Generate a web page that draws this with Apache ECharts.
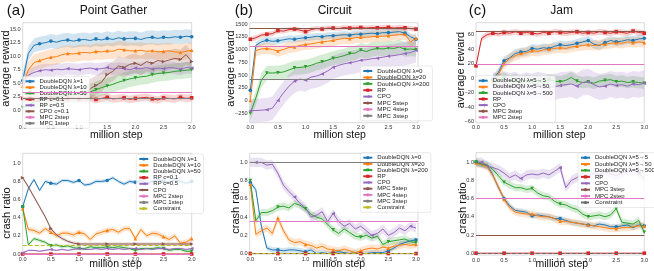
<!DOCTYPE html>
<html><head><meta charset="utf-8">
<script src="https://cdn.jsdelivr.net/npm/echarts@6/dist/echarts.min.js"></script>
<style>html,body{margin:0;padding:0;background:#fff}#c{width:654px;height:271px}</style>
</head><body><div id="c"></div>
<script>
// ---------- data ----------
const X = [0,0.1,0.2,0.3,0.4,0.5,0.6,0.7,0.8,0.9,1.0,1.1,1.2,1.3,1.4,1.5,1.6,1.7,1.8,1.9,2.0,2.1,2.2,2.3,2.4,2.5,2.6,2.7,2.8,2.9,3.0];
const xTicks = [0,0.5,1.0,1.5,2.0,2.5,3.0];
const yTicksA = [0,2.5,5,7.5,10,12.5,15];
const yTicksB = [-250,0,250,500,750,1000,1250,1500];
const yTicksC = [-60,-40,-20,0,20,40,60];
const yTicksCrash = [0,0.2,0.4,0.6,0.8,1.0];

// (a) Point Gather reward
const gA_dqn1  = [5.5,10.5,12.0,12.3,12.5,12.8,12.6,12.9,13.0,12.8,13.0,13.1,12.9,13.2,13.0,13.3,13.1,13.4,13.2,13.3,13.3,13.1,13.4,13.5,13.3,13.5,13.4,13.6,13.5,13.7,13.6];
const gA_dqn10 = [4.5,7.5,8.8,9.2,9.5,9.8,9.9,10.3,10.5,10.4,10.6,10.7,10.6,10.9,10.8,11.0,10.9,11.3,11.2,11.0,11.0,11.1,10.9,11.0,10.8,10.9,11.0,10.8,10.7,10.9,11.1];
const gA_dqn50 = [0.5,1.0,1.5,1.8,2.0,2.3,2.5,2.6,2.8,2.9,3.0,3.1,3.4,3.8,4.2,4.5,4.8,5.2,5.5,5.8,6.0,6.2,6.3,6.6,6.8,6.9,7.0,7.2,7.3,7.4,7.5];
const gA_rp01  = [2.2,2.5,2.3,2.1,2.4,2.2,2.3,2.0,2.2,2.3,2.1,2.2,2.3,2.0,2.2,2.4,2.1,2.2,2.3,2.0,2.2,2.3,2.4,2.1,1.9,2.3,2.2,2.1,2.4,2.2,2.3];
const gA_rp05  = [5.0,6.5,7.0,7.3,7.5,7.4,7.6,7.5,7.7,7.6,7.5,7.7,7.8,7.6,7.7,7.9,7.6,7.8,7.7,7.5,7.8,7.7,7.9,7.6,7.8,7.7,7.9,7.8,7.6,7.9,7.8];
const gA_cpo   = [2.6,4.0,4.6,5.2,6.6,7.2,8.2,7.9,8.5,8.7,8.3,9.0,8.7,9.2,9.0,9.3,9.6,9.4,10.3,9.0]; // from x=1.1
const gA_mpc = {two:3.4, one:2.3};

// (b) Circuit reward
const gB_dqn0   = [200,1080,1150,1180,1160,1170,1190,1210,1200,1220,1230,1240,1260,1250,1270,1270,1280,1290,1280,1300,1300,1310,1320,1310,1330,1330,1340,1350,1320,1250,1200];
const gB_dqn20  = [0,980,1010,1020,1000,970,1000,1040,1050,1080,1100,1110,1130,1150,1160,1180,1200,1220,1210,1230,1240,1240,1250,1260,1260,1270,1280,1290,1300,1150,1220];
const gB_dqn200 = [-250,50,400,540,540,545,560,600,640,650,660,690,730,760,790,830,850,880,920,930,990,960,1000,1020,1010,1030,1020,1050,1000,1010,1000];
const gB_rp     = [1200,1230,1280,1300,1310,1370,1360,1390,1400,1380,1350,1390,1410,1400,1420,1420,1410,1430,1420,1425,1430,1420,1430,1425,1430,1435,1420,1430,1425,1410,1400];
const gB_cpo    = [-200,-195,-190,-180,-150,0,150,280,380,420,400,460,480,520,580,650,690,720,740,760,790,800,820,830,850,870,880,900,920,940,980];
const gB_mpc = {five:1420, four:1060, three:420};

// (c) Jam reward (DQN / CPO from x=0.3)
const gC_dqn5   = [-2,8,24,28,34,36,37,41,40,42,41,44,46,45,46,48,50,52,47,45,49,52,50,51,53,52,54,55];
const gC_dqn50  = [-4,5,20,27,31,34,35,38,37,39,40,41,42,41,43,44,45,46,45,46,47,48,49,48,50,49,50,49];
const gC_dqn500 = [-5,-3,0,-4,-2,-6,-3,-5,-4,-7,-2,-4,-5,-3,1,-4,-6,-5,-7,-4,-3,-2,-5,-4,-6,-5,-6,-7];
const gC_rp     = [17,55,60,62,61,63,62,64,62,63,62,61,63,62,64,63,62,63,64,62,63,62,64,63,62,64,63,62,65,63,62];
const gC_cpo    = [-10,-12,-8,-11,-9,-13,-10,-12,-9,-11,-13,-12,-10,-9,-8,-11,-6,-5,-9,-12,-11,-8,-10,-9,-11,-8,-9,-7];
const gC_mpc = {three:65, two:19};

// (a) crash ratio
const cA_dqn1  = [0.52,0.72,0.82,0.70,0.80,0.78,0.77,0.81,0.81,0.79,0.81,0.76,0.77,0.80,0.80,0.81,0.84,0.80,0.77,0.80,0.79,0.81,0.78,0.80,0.82,0.80,0.79,0.82,0.80,0.78,0.80];
const cA_dqn10 = [0.50,0.27,0.26,0.23,0.28,0.24,0.20,0.23,0.23,0.21,0.24,0.22,0.16,0.22,0.24,0.26,0.27,0.24,0.28,0.28,0.17,0.27,0.20,0.23,0.22,0.19,0.16,0.20,0.12,0.13,0.17];
const cA_dqn50 = [0.52,0.10,0.17,0.15,0.13,0.09,0.10,0.08,0.09,0.07,0.06,0.06,0.08,0.07,0.07,0.08,0.07,0.08,0.07,0.06,0.04,0.06,0.06,0.06,0.07,0.06,0.04,0.05,0.05,0.03,0.03];
const cA_rp01  = [0,0,0,0,0,0,0,0,0,0,0,0,0,0,0,0,0,0,0,0,0,0,0,0,0,0,0,0,0,0,0];
const cA_rp05  = [0.01,0.04,0.04,0.03,0.04,0.05,0.04,0.05,0.04,0.05,0.06,0.05,0.05,0.06,0.05,0.06,0.05,0.06,0.05,0.06,0.06,0.05,0.06,0.05,0.06,0.06,0.05,0.06,0.06,0.05,0.06];
const cA_cpo   = [0.84,0.74,0.63,0.52,0.41,0.28,0.21,0.17,0.14,0.12,0.11,0.11,0.11,0.11,0.11,0.11,0.11,0.11,0.11,0.11,0.11,0.11,0.11,0.11,0.11,0.11,0.11,0.11,0.11,0.11,0.11];
const cA_lines = {two:0, one:0, constraint:0.1};

// (b) crash ratio
const cB_dqn0   = [0.78,0.70,0.30,0.06,0.04,0.04,0.03,0.04,0.04,0.03,0.02,0.04,0.00,0.01,0.00,0.01,0.02,0.01,0.00,0.01,0.00,0.00,0.01,0.01,0.01,0.03,0.06,0.10,0.12,0.14,0.15];
const cB_dqn20  = [0.76,0.21,0.25,0.28,0.22,0.39,0.25,0.15,0.12,0.13,0.10,0.09,0.06,0.08,0.05,0.04,0.03,0.05,0.03,0.01,0.03,0.05,0.06,0.05,0.07,0.06,0.08,0.09,0.10,0.09,0.10];
const cB_dqn200 = [0.80,0.36,0.45,0.45,0.47,0.51,0.52,0.50,0.55,0.53,0.49,0.43,0.40,0.38,0.32,0.26,0.22,0.27,0.23,0.19,0.18,0.20,0.17,0.19,0.10,0.13,0.14,0.15,0.16,0.13,0.12];
const cB_rp     = [0,0,0,0,0,0,0,0,0,0,0,0,0,0,0,0,0,0,0,0,0,0,0,0,0,0,0,0,0,0,0];
const cB_cpo    = [1.0,1.0,1.0,0.97,0.98,0.88,0.75,0.68,0.62,0.55,0.50,0.40,0.42,0.46,0.35,0.44,0.35,0.30,0.33,0.27,0.30,0.25,0.20,0.22,0.27,0.20,0.23,0.28,0.25,0.30,0.28];
const cB_lines = {five:0, four:0.35, three:1.0, constraint:0};

// (c) crash ratio
const cC_dqn5   = [1.0,0.97,0.96,0.86,0.72,0.60,0.52,0.47,0.46,0.45,0.41,0.42,0.41,0.40,0.38,0.38,0.36,0.34,0.33,0.32,0.31,0.30,0.32,0.31,0.29,0.29,0.30,0.31,0.28,0.31,0.30];
const cC_dqn50  = [0.99,0.97,0.95,0.85,0.73,0.59,0.50,0.45,0.44,0.43,0.43,0.41,0.40,0.40,0.38,0.35,0.35,0.34,0.33,0.32,0.31,0.30,0.29,0.28,0.27,0.27,0.28,0.28,0.29,0.30,0.30];
const cC_dqn500 = [1.0,0.98,0.97,0.92,0.85,0.78,0.75,0.72,0.72,0.70,0.71,0.66,0.63,0.62,0.57,0.54,0.53,0.50,0.48,0.43,0.40,0.41,0.42,0.40,0.42,0.49,0.34,0.33,0.32,0.36,0.23];
const cC_rp     = [0,0,0,0,0,0,0,0,0,0,0,0,0,0,0,0,0,0,0,0,0,0,0,0,0,0,0,0,0,0,0];
const cC_cpo    = [1.0,1.0,0.96,0.94,0.92,0.88,0.83,0.86,0.82,0.86,0.87,0.86,0.88,0.86,0.90,0.94,0.72,0.80,0.83,0.88,0.85,0.88,0.86,0.90,0.87,0.85,0.88,0.90,0.92,0.88,0.82];
const cC_lines = {three:0.2, two:0.6, constraint:0};

// ---------- styling / layout ----------
const FONT = 'Liberation Sans, Arial, sans-serif';
const COL = {blue:'#1f77b4', orange:'#ff7f0e', green:'#2ca02c', red:'#d62728', purple:'#9467bd', brown:'#8c564b', pink:'#e377c2', gray:'#7f7f7f', olive:'#bcbd22'};
const TOPMARK = [0,3,5,8,10,13,15,18,20,23,25,28,30];
const BOTMARK = [0,5,10,15,20,25,30];
const CPOMARK = [1,8,15,22,29];

const panels = [
  {grid:{left:22.7, top:22.7, width:169, height:100}, x:[0,3], y:[-2.3,16.2], yt:yTicksA, fmt:v=>v.toFixed(1)},
  {grid:{left:249.7, top:22.7, width:168.3, height:100}, x:[-0.011,3.036], y:[-434,1525], yt:yTicksB, fmt:v=>String(v).replace('-','\u2212')},
  {grid:{left:476, top:22.7, width:168.3, height:100}, x:[0,3], y:[-61.4,76.5], yt:yTicksC, fmt:v=>String(v).replace('-','\u2212')},
  {grid:{left:22.7, top:153.3, width:169, height:100.7}, x:[0,3], y:[0,1.11], yt:yTicksCrash, fmt:v=>v.toFixed(1)},
  {grid:{left:249.7, top:153.3, width:168.3, height:100.7}, x:[-0.011,3.036], y:[-0.005,1.1], yt:yTicksCrash, fmt:v=>v.toFixed(1)},
  {grid:{left:476, top:152.6, width:168.3, height:102.4}, x:[0,3], y:[-0.02,1.105], yt:yTicksCrash, fmt:v=>v.toFixed(1)}
];

const series = [];
const legends = [];
const nm = (p, s) => s + '\u200b'.repeat(p);

function bandSeries(p, xs, ys, w, color) {
  const lo = ys.map(y => y - w), hi = ys.map(y => y + w);
  series.push({type:'custom', xAxisIndex:p, yAxisIndex:p, silent:true, z:1,
    data: xs.map((x,i)=>[x, ys[i]]),
    renderItem: function (params, api) {
      if (params.dataIndex !== 0) return null;
      const pts = [];
      for (let i = 0; i < xs.length; i++) pts.push(api.coord([xs[i], hi[i]]));
      for (let i = xs.length - 1; i >= 0; i--) pts.push(api.coord([xs[i], lo[i]]));
      const cs = params.coordSys;
      return {type:'polygon', shape:{points:pts}, style:{fill:color, opacity:0.2},
        clipPath:{type:'rect', shape:{x:cs.x, y:cs.y, width:cs.width, height:cs.height}}};
    }});
}
function curve(p, name, ys, color, sym, rot, marks, band, off) {
  off = off || 0;
  const xs = X.slice(off, off + ys.length);
  if (band) bandSeries(p, xs, ys, band, color);
  series.push({type:'line', name:nm(p,name), xAxisIndex:p, yAxisIndex:p,
    data: ys.map((y,i)=>[xs[i], y]), color:color,
    symbol:sym, symbolRotate:rot||0,
    symbolSize:(v,prm)=> marks.indexOf(prm.dataIndex + off) >= 0 ? 3.6 : 0,
    showSymbol:true, itemStyle:{color:color}, lineStyle:{width:1, color:color}, z:3});
}
function hline(p, name, v, color, type, w) {
  series.push({type:'line', name:nm(p,name), xAxisIndex:p, yAxisIndex:p, data:[], symbol:'none',
    color:color, itemStyle:{color:color}, lineStyle:{color:color, width:w||1, type:type||'solid'}, z:2,
    markLine:{silent:true, symbol:['none','none'], label:{show:false}, animation:false,
      lineStyle:{color:color, width:w||1, type:type||'solid'}, data:[{yAxis:v}]}});
}
function legend(p, names, left, top, fs, lh, gap) {
  legends.push({orient:'vertical', left:left, top:top, data:names.map(s=>nm(p,s)),
    itemWidth:9, itemHeight:4, itemGap:gap, padding:[2,3,2,2], selectedMode:false,
    textStyle:{fontSize:fs, lineHeight:lh, fontFamily:FONT, color:'#222'},
    backgroundColor:'rgba(255,255,255,0.8)', borderColor:'#d5d5d5', borderWidth:0.5, borderRadius:2});
}

// panel 0: Point Gather reward
hline(0, 'MPC 1step', gA_mpc.one, COL.gray);
hline(0, 'MPC 2step', gA_mpc.two, COL.pink, 'solid', 1.2);
curve(0, 'DoubleDQN λ=1', gA_dqn1, COL.blue, 'circle', 0, TOPMARK, 1.3);
curve(0, 'DoubleDQN λ=10', gA_dqn10, COL.orange, 'triangle', 0, TOPMARK, 1.5);
curve(0, 'DoubleDQN λ=50', gA_dqn50, COL.green, 'triangle', 180, TOPMARK, 1.5);
curve(0, 'RP c=0.1', gA_rp01, COL.red, 'rect', 0, TOPMARK, 0.7);
curve(0, 'RP c=0.5', gA_rp05, COL.purple, 'triangle', 90, TOPMARK, 1.1);
curve(0, 'CPO c=0.1', gA_cpo, COL.brown, 'triangle', -90, TOPMARK, 1.8, 11);
legend(0, ['DoubleDQN λ=1','DoubleDQN λ=10','DoubleDQN λ=50','RP c=0.1','RP c=0.5','CPO c=0.1','MPC 2step','MPC 1step'], 22.5, 76.3, 6, 5.2, 0);

// panel 1: Circuit reward
hline(1, 'MPC 5step', gB_mpc.five, COL.brown);
hline(1, 'MPC 4step', gB_mpc.four, COL.pink);
hline(1, 'MPC 3step', gB_mpc.three, COL.gray);
curve(1, 'DoubleDQN λ=0', gB_dqn0, COL.blue, 'circle', 0, TOPMARK, 70);
curve(1, 'DoubleDQN λ=20', gB_dqn20, COL.orange, 'triangle', 0, TOPMARK, 110);
curve(1, 'DoubleDQN λ=200', gB_dqn200, COL.green, 'triangle', 180, TOPMARK, 140);
curve(1, 'RP', gB_rp, COL.red, 'rect', 0, TOPMARK, 50);
curve(1, 'CPO', gB_cpo, COL.purple, 'triangle', 90, TOPMARK, 230);
legend(1, ['DoubleDQN λ=0','DoubleDQN λ=20','DoubleDQN λ=200','RP','CPO','MPC 5step','MPC 4step','MPC 3step'], 360.3, 66, 6.2, 6, 0.4);

// panel 2: Jam reward
hline(2, 'MPC 3step', gC_mpc.three, COL.brown);
hline(2, 'MPC 2step', gC_mpc.two, COL.pink);
curve(2, 'DoubleDQN λ=5→5', gC_dqn5, COL.blue, 'circle', 0, TOPMARK, 6, 3);
curve(2, 'DoubleDQN λ=5→50', gC_dqn50, COL.orange, 'triangle', 0, TOPMARK, 7, 3);
curve(2, 'DoubleDQN λ=5→500', gC_dqn500, COL.green, 'triangle', 180, TOPMARK, 8, 3);
curve(2, 'RP', gC_rp, COL.red, 'rect', 0, TOPMARK, 4);
curve(2, 'CPO', gC_cpo, COL.purple, 'triangle', 90, TOPMARK, 18, 3);
legend(2, ['DoubleDQN λ=5→5','DoubleDQN λ=5→50','DoubleDQN λ=5→500','RP','CPO','MPC 3step','MPC 2step'], 475.7, 75.7, 6, 6, 0.1);

// panel 3: Point Gather crash
hline(3, 'MPC 1step', cA_lines.one, COL.gray);
hline(3, 'MPC 2step', cA_lines.two, COL.pink);
hline(3, 'Constraint', cA_lines.constraint, COL.olive, 'dashed');
curve(3, 'DoubleDQN λ=1', cA_dqn1, COL.blue, 'circle', 0, BOTMARK, 0.02);
curve(3, 'DoubleDQN λ=10', cA_dqn10, COL.orange, 'triangle', 0, BOTMARK, 0.03);
curve(3, 'DoubleDQN λ=50', cA_dqn50, COL.green, 'triangle', 180, BOTMARK, 0.02);
curve(3, 'RP c=0.1', cA_rp01, COL.red, 'rect', 0, BOTMARK, 0);
curve(3, 'RP c=0.5', cA_rp05, COL.purple, 'triangle', 90, BOTMARK, 0.01);
curve(3, 'CPO', cA_cpo, COL.brown, 'triangle', -90, BOTMARK, 0.02);
legend(3, ['DoubleDQN λ=1','DoubleDQN λ=10','DoubleDQN λ=50','RP c=0.1','RP c=0.5','CPO','MPC 2step','MPC 1step','Constraint'], 136.3, 154, 6, 6, 0.2);

// panel 4: Circuit crash
hline(4, 'MPC 5step', cB_lines.five, COL.brown);
hline(4, 'MPC 4step', cB_lines.four, COL.pink);
hline(4, 'MPC 3step', cB_lines.three, COL.gray);
hline(4, 'Constraint', cB_lines.constraint, COL.olive, 'dashed');
curve(4, 'DoubleDQN λ=0', cB_dqn0, COL.blue, 'circle', 0, BOTMARK, 0.03);
curve(4, 'DoubleDQN λ=20', cB_dqn20, COL.orange, 'triangle', 0, BOTMARK, 0.04);
curve(4, 'DoubleDQN λ=200', cB_dqn200, COL.green, 'triangle', 180, BOTMARK, 0.04);
curve(4, 'RP', cB_rp, COL.red, 'rect', 0, BOTMARK, 0);
curve(4, 'CPO', cB_cpo, COL.purple, 'triangle', 90, CPOMARK, 0.05);
legend(4, ['DoubleDQN λ=0','DoubleDQN λ=20','DoubleDQN λ=200','RP','CPO','MPC 5step','MPC 4step','MPC 3step','Constraint'], 360.3, 152.7, 6, 5.6, 0.2);

// panel 5: Jam crash
hline(5, 'MPC 3step', cC_lines.three, COL.brown);
hline(5, 'MPC 2step', cC_lines.two, COL.pink, 'solid', 1.2);
hline(5, 'Constraint', cC_lines.constraint, '#6b6b6b', 'dashed');
curve(5, 'DoubleDQN λ=5→5', cC_dqn5, COL.blue, 'circle', 0, BOTMARK, 0.03);
curve(5, 'DoubleDQN λ=5→50', cC_dqn50, COL.orange, 'triangle', 0, BOTMARK, 0.04);
curve(5, 'DoubleDQN λ=5→500', cC_dqn500, COL.green, 'triangle', 180, BOTMARK, 0.04);
curve(5, 'RP', cC_rp, COL.red, 'rect', 0, BOTMARK, 0);
curve(5, 'CPO', cC_cpo, COL.purple, 'triangle', 90, CPOMARK, 0.05);
legend(5, ['DoubleDQN λ=5→5','DoubleDQN λ=5→50','DoubleDQN λ=5→500','RP','CPO','MPC 3step','MPC 2step','Constraint'], 578, 152.7, 6, 6, 0.4);

const axisLbl = {fontSize:5.6, color:'#333', fontFamily:FONT, margin:2};
const option = {
  animation:false,
  backgroundColor:'#fff',
  grid: panels.map(p=>Object.assign({show:true, borderColor:'#cfcfcf', borderWidth:0.8, backgroundColor:'#fff', containLabel:false}, p.grid)),
  xAxis: panels.map((p,i)=>({type:'value', gridIndex:i, min:p.x[0], max:p.x[1],
    axisLine:{show:false}, axisTick:{show:false}, splitLine:{show:false},
    axisLabel:Object.assign({customValues:xTicks, formatter:v=>Number(v).toFixed(1)}, axisLbl)})),
  yAxis: panels.map((p,i)=>({type:'value', gridIndex:i, min:p.y[0], max:p.y[1],
    axisLine:{show:false}, axisTick:{show:false}, splitLine:{show:false},
    axisLabel:Object.assign({customValues:p.yt, formatter:p.fmt}, axisLbl)})),
  legend: legends,
  series: series,
  graphic: []
};
function txt(x, y, text, fs, rot) {
  return {type:'text', x:x, y:y, rotation:rot||0, z:100, silent:true,
    style:{text:text, fontSize:fs, fontFamily:FONT, fill:'#111', align:'center', verticalAlign:'middle', textAlign:'center', textVerticalAlign:'middle'}};
}
option.graphic = [
  txt(16, 11, '(a)', 15), txt(113.5, 11, 'Point Gather', 12),
  txt(243.8, 11, '(b)', 15), txt(334.7, 11, 'Circuit', 12),
  txt(477.5, 11, '(c)', 15), txt(561.7, 11, 'Jam', 12),
  txt(6, 68.5, 'average reward', 11, Math.PI/2), txt(231.3, 68.5, 'average reward', 11, Math.PI/2), txt(461, 70, 'average reward', 11, Math.PI/2),
  txt(116.3, 135, 'million step', 10.5), txt(339.7, 135, 'million step', 10.5), txt(559.3, 135, 'million step', 10.5),
  txt(6.7, 213, 'crash ratio', 11, Math.PI/2), txt(236.3, 208, 'crash ratio', 11, Math.PI/2), txt(462.7, 208, 'crash ratio', 11, Math.PI/2),
  txt(115.5, 264, 'million step', 10.5), txt(338.8, 264, 'million step', 10.5), txt(561.8, 264, 'million step', 10.5)
];
const chart = echarts.init(document.getElementById('c'), null, {renderer:'canvas'});
chart.setOption(option);
</script></body></html>
